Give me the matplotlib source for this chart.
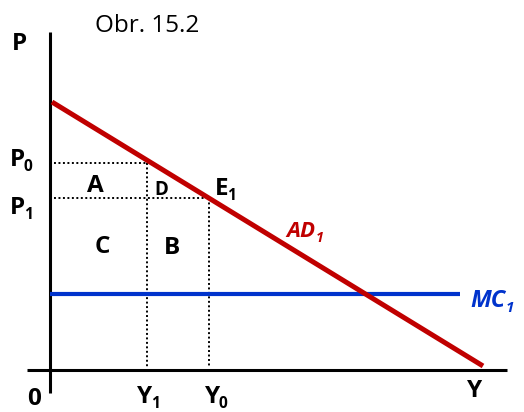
import matplotlib
matplotlib.use("Agg")
import matplotlib.pyplot as plt

FONT = 'Open Sans'
plt.rcParams['font.family'] = [FONT, 'DejaVu Sans']

# --- data (arbitrary economic units) ---
ad_y = [0.2, 43.3]          # output along AD1
ad_p = [26.8, 0.4]          # price along AD1
mc_y = [0.0, 41.0]
mc_p = [7.6, 7.6]
P0, P1 = 20.7, 17.2
Y1, Y0 = 9.7, 15.9
axis_p = [-2.3, 33.8]       # vertical axis extent
axis_y = [-2.3, 45.7]       # horizontal axis extent

RED = '#C00000'
BLUE = '#0033CC'
DPI = 100

fig = plt.figure(figsize=(5.24, 4.12), dpi=DPI)
ax = fig.add_axes([0, 0, 1, 1])
ax.set_xlim(-5.0, 47.4)
ax.set_ylim(-4.2, 37.0)
ax.axis('off')

# axes
ax.plot([0, 0], axis_p, color='black', lw=2.2, solid_capstyle='butt')
ax.plot(axis_y, [0, 0], color='black', lw=2.2, solid_capstyle='butt')

# dotted guides
dot = dict(color='black', lw=1.4, linestyle=(0, (1, 1.3)))
ax.plot([0.4, Y1], [P0, P0], **dot)
ax.plot([0.4, Y0], [P1, P1], **dot)
ax.plot([Y1, Y1], [P0, 0.3], **dot)
ax.plot([Y0, Y0], [P1, 0.3], **dot)

# curves
ax.plot(mc_y, mc_p, color=BLUE, lw=3.0, solid_capstyle='butt')
ax.plot(ad_y, ad_p, color=RED, lw=3.6, solid_capstyle='butt')


def sub_label(x, y, main, sub, size, color='black', style='normal', gap=-1.5):
    t = ax.text(x, y, main, ha='left', va='baseline', fontsize=size,
                fontweight='bold', fontstyle=style, color=color)
    fig.canvas.draw()
    bb = t.get_window_extent()
    _, by = ax.transData.transform((x, y))
    drop = size * 0.22 * DPI / 72.0
    sx, sy = ax.transData.inverted().transform((bb.x1 + gap, by - drop))
    ax.text(sx, sy, sub, ha='left', va='baseline', fontsize=size * 0.64,
            fontweight='bold', fontstyle=style, color=color)


# labels
FS = 17.5
bold = dict(fontsize=FS, fontweight='bold', color='black')
ax.text(9.7, 34.4, 'Obr. 15.2', fontsize=17.5, ha='center', va='center')
ax.text(-3.1, 32.6, 'P', ha='center', va='center', **bold)
sub_label(-4.0, 20.4, 'P', '0', FS)
sub_label(-4.0, 15.6, 'P', '1', FS)
ax.text(4.5, 18.4, 'A', ha='center', va='center', **bold)
ax.text(11.1, 18.0, 'D', ha='center', va='center', fontsize=13.5, fontweight='bold')
sub_label(16.5, 17.5, 'E', '1', FS)
ax.text(5.2, 12.3, 'C', ha='center', va='center', **bold)
ax.text(12.2, 12.2, 'B', ha='center', va='center', **bold)
sub_label(23.6, 13.3, 'AD', '1', 16, color=RED, style='italic', gap=0.5)
sub_label(42.0, 6.3, 'MC', '1', 17, color=BLUE, style='italic', gap=0.5)
ax.text(-1.6, -2.9, '0', ha='center', va='center', **bold)
sub_label(8.7, -3.3, 'Y', '1', FS)
sub_label(15.5, -3.3, 'Y', '0', FS)
ax.text(42.5, -2.1, 'Y', ha='center', va='center', **bold)

fig.savefig('out.png', dpi=DPI)
